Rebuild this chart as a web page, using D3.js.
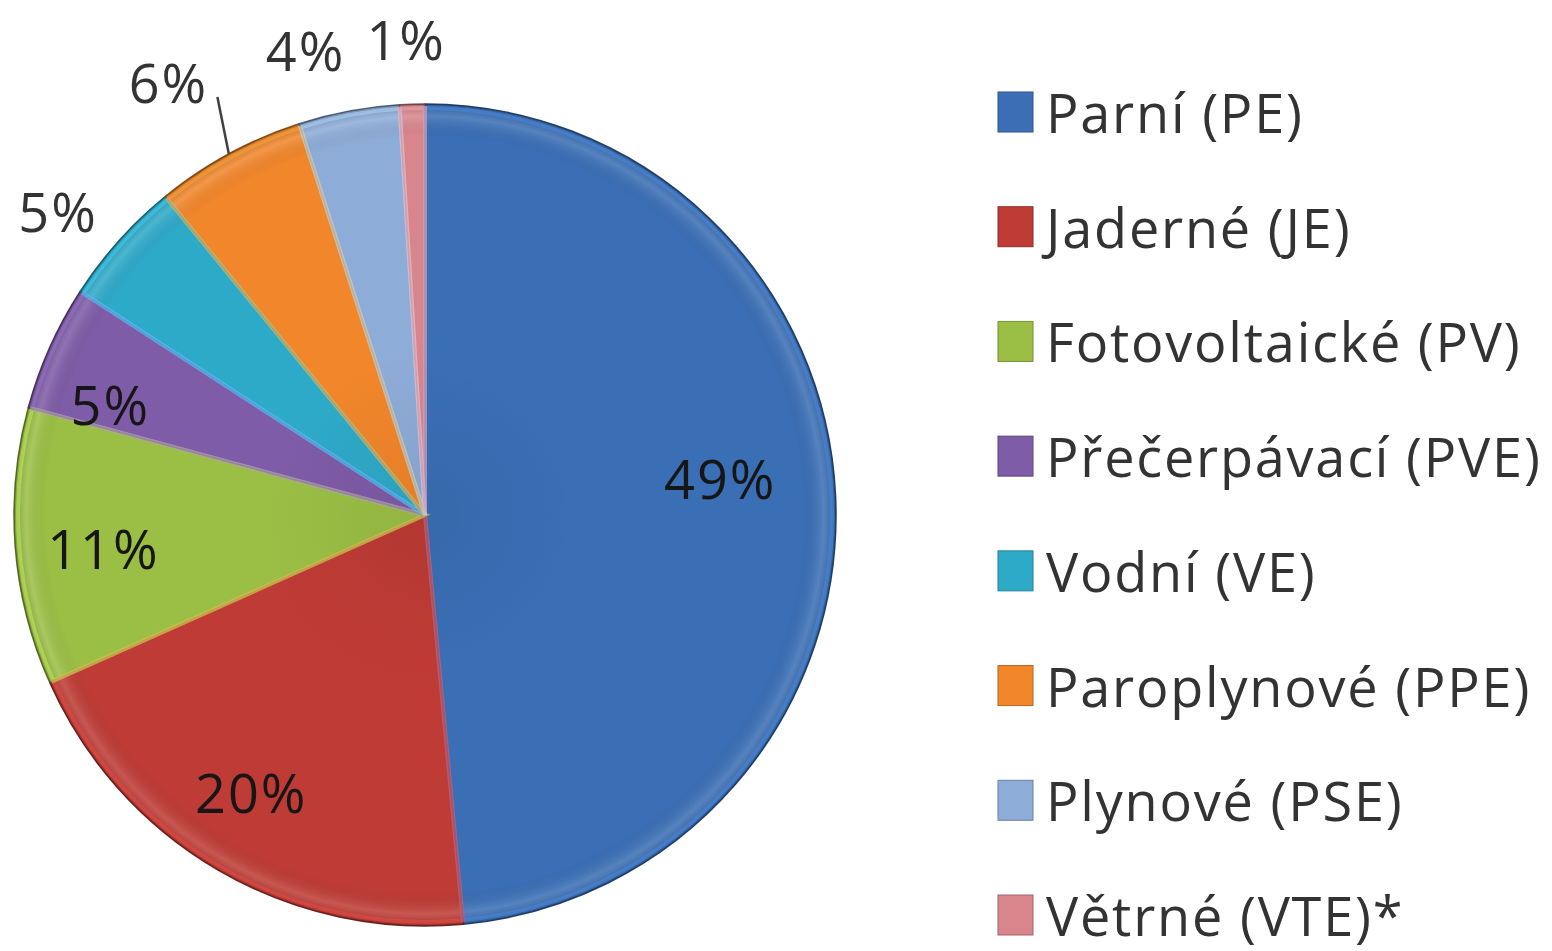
<!DOCTYPE html>
<html>
<head>
<meta charset="utf-8">
<script src="https://cdn.jsdelivr.net/npm/d3@7/dist/d3.min.js"></script>
<style>
  html, body { margin: 0; padding: 0; background: #ffffff; }
  svg { display: block; }
  text { font-family: "Open Sans", "DejaVu Sans", sans-serif; }
</style>
</head>
<body>
<svg id="chart" width="1552" height="951"></svg>
<script>
// ---- data ----
const categories = ["Parní (PE)", "Jaderné (JE)", "Fotovoltaické (PV)", "Přečerpávací (PVE)",
                    "Vodní (VE)", "Paroplynové (PPE)", "Plynové (PSE)", "Větrné (VTE)*"];
const values = [49, 20, 11, 5, 5, 6, 4, 1];
const colors = ["#3a6fb6", "#bf3b35", "#9bbf45", "#7e5ca7", "#2eaac9", "#f2862b", "#8eacd8", "#d8868c"];

// ---- layout config ----
const W = 1552, H = 951;
const cx = 425, cy = 515, R = 411;
const labelInside = [true, true, true, true, false, false, false, false];
const labelNudge = [[-26, -22], [-13, 0], [-3, 8], [-23, 20], [-13, 14], [-30, -14], [-32, 3], [-5, 1]];
const leader = [false, false, false, false, false, true, false, false];

const svg = d3.select("#chart");
const defs = svg.append("defs");

// bevel-like radial highlight
const rg = defs.append("radialGradient").attr("id", "rim")
  .attr("gradientUnits", "userSpaceOnUse").attr("cx", 0).attr("cy", 0).attr("r", R);
rg.append("stop").attr("offset", "0%").attr("stop-color", "#000").attr("stop-opacity", 0.06);
rg.append("stop").attr("offset", "40%").attr("stop-color", "#000").attr("stop-opacity", 0.0);
rg.append("stop").attr("offset", "92%").attr("stop-color", "#000").attr("stop-opacity", 0.0);
rg.append("stop").attr("offset", "97%").attr("stop-color", "#fff").attr("stop-opacity", 0.14);
rg.append("stop").attr("offset", "100%").attr("stop-color", "#000").attr("stop-opacity", 0.2);

const pie = d3.pie().sort(null).value(d => d);
const arcs = pie(values);
const arc = d3.arc().innerRadius(0).outerRadius(R);

const g = svg.append("g").attr("transform", `translate(${cx},${cy})`);

g.selectAll("path.slice").data(arcs).join("path")
  .attr("class", "slice")
  .attr("d", arc)
  .attr("fill", (d, i) => colors[i])
  .attr("stroke", (d, i) => d3.color(colors[i]).darker(1.4))
  .attr("stroke-width", 1.5)
  .attr("stroke-linejoin", "round");

g.selectAll("path.rim").data(arcs).join("path")
  .attr("class", "rim")
  .attr("d", arc)
  .attr("fill", "url(#rim)");

// inner bevel highlight along edges
const bevelArc = d3.arc().innerRadius(0).outerRadius(R - 4);
g.selectAll("path.bevel").data(arcs).join("path")
  .attr("class", "bevel")
  .attr("d", bevelArc)
  .attr("fill", "none")
  .attr("stroke", (d, i) => d3.color(colors[i]).brighter(0.7))
  .attr("stroke-opacity", 0.5)
  .attr("stroke-width", 4);

// labels
const fmt = v => v + "%";
function labelPos(d, i) {
  const a = (d.startAngle + d.endAngle) / 2;
  const f = labelInside[i] ? 0.78 : 1.16;
  const r = R * f;
  return [Math.sin(a) * r + labelNudge[i][0], -Math.cos(a) * r + labelNudge[i][1]];
}

// leader lines
g.selectAll("line.leader").data(arcs.filter((d, i) => leader[i])).join("line")
  .attr("class", "leader")
  .each(function(d) {
    const i = arcs.indexOf(d);
    const a = (d.startAngle + d.endAngle) / 2;
    const p = labelPos(d, i);
    d3.select(this)
      .attr("x1", Math.sin(a) * R).attr("y1", -Math.cos(a) * R)
      .attr("x2", p[0] + 50).attr("y2", p[1] + 15);
  })
  .attr("stroke", "#404040").attr("stroke-width", 2.5);

g.selectAll("text.lbl").data(arcs).join("text")
  .attr("class", "lbl")
  .attr("x", (d, i) => labelPos(d, i)[0] + 1)
  .attr("y", (d, i) => labelPos(d, i)[1])
  .attr("text-anchor", "middle")
  .attr("dominant-baseline", "central")
  .attr("font-size", 54)
  .attr("letter-spacing", 2)
  .attr("fill", (d, i) => labelInside[i] ? "#161616" : "#333333")
  .text((d, i) => fmt(values[i]));

// legend
const legendY = d3.scalePoint().domain(categories).range([112, 915]);
const lg = svg.append("g");
const item = lg.selectAll("g.item").data(categories).join("g")
  .attr("class", "item")
  .attr("transform", d => `translate(0,${legendY(d)})`);

item.append("rect")
  .attr("x", 998).attr("y", -20).attr("width", 35).attr("height", 40)
  .attr("fill", (d, i) => colors[i])
  .attr("stroke", (d, i) => d3.color(colors[i]).darker(0.8))
  .attr("stroke-width", 1);

item.append("text")
  .attr("x", 1046).attr("y", 0)
  .attr("dominant-baseline", "central")
  .attr("font-size", 54)
  .attr("letter-spacing", 1.8)
  .attr("fill", "#333333")
  .text(d => d);
</script>
</body>
</html>
